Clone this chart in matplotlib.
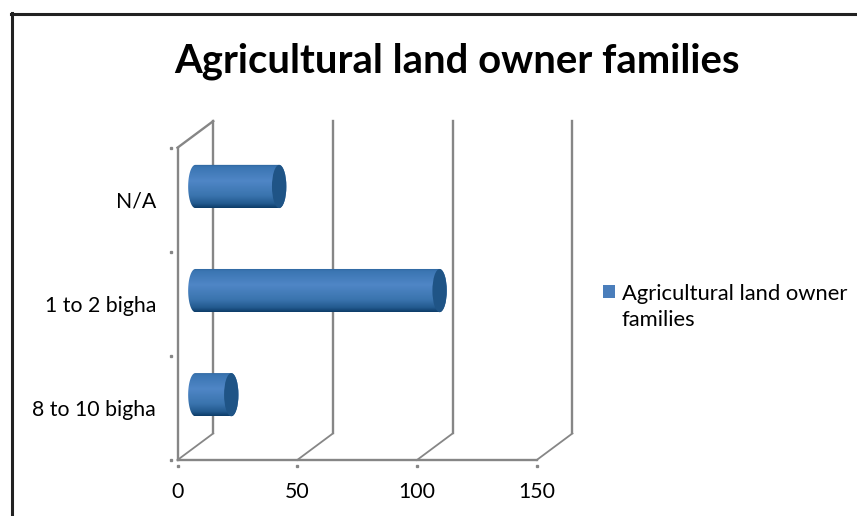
import numpy as np
import matplotlib
matplotlib.use("Agg")
import matplotlib.pyplot as plt
from matplotlib.colors import LinearSegmentedColormap
from matplotlib.lines import Line2D
from matplotlib.patches import Ellipse, Patch, Polygon

categorias = ["8 to 10 bigha", "1 to 2 bigha", "N/A"]
valores = [15, 102, 35]
ticks_x = [0, 50, 100, 150]
titulo = "Agricultural land owner families"
serie = ["Agricultural land owner", "families"]

W, H = 857, 516
plt.rcParams["font.family"] = ["Lato", "DejaVu Sans"]

fig = plt.figure(figsize=(W / 100, H / 100), dpi=100)
ax = fig.add_axes([177.5 / W, 1 - 460 / H, (536.7 - 177.5) / W, (460 - 147.7) / H])
ax.set_axis_off()

gris = "#868686"
fondo_x = 14.9   # profundidad del grafico 3d en unidades de datos
fondo_y = 0.255
y_min, y_max = -0.5, 2.5

# paredes y piso
for t in ticks_x:
    ax.plot([t + fondo_x, t + fondo_x], [y_min + fondo_y, y_max + fondo_y], c=gris, lw=1.7, clip_on=False, zorder=1)
    ax.plot([t, t + fondo_x], [y_min, y_min + fondo_y], c=gris, lw=1.3, clip_on=False, zorder=1)
ax.plot([0, 0], [y_min, y_max], c=gris, lw=1.7, clip_on=False, zorder=1)
ax.plot([0, fondo_x], [y_max, y_max + fondo_y], c=gris, lw=1.7, clip_on=False, zorder=1)
ax.plot([0, ticks_x[-1]], [y_min, y_min], c=gris, lw=1.7, clip_on=False, zorder=1)

# marquitas separadas del eje
ax.plot(ticks_x, [y_min - 0.06] * len(ticks_x), ls="", marker="s", ms=1.4, c=gris, clip_on=False)
ax.plot([-2.6] * 4, np.arange(4) - 0.5, ls="", marker="s", ms=1.4, c=gris, clip_on=False)

# cilindros
cmap = LinearSegmentedColormap.from_list("azul", [
    (0.0, "#2b6298"), (0.06, "#3a75b2"), (0.38, "#4f86c6"),
    (0.72, "#3a74ae"), (0.9, "#235a8f"), (1.0, "#0d3c68")])
grad = np.linspace(0, 1, 128).reshape(-1, 1)
alto = 0.415
semi = 3.0
ang = np.linspace(np.pi / 2, 3 * np.pi / 2, 40)

for i, v in enumerate(valores):
    x0 = fondo_x / 2
    y0 = i + fondo_y / 2
    x1 = x0 + v
    xs = np.r_[x0 + semi * np.cos(ang), x1 - semi * np.cos(ang)]
    ys = np.r_[y0 + alto / 2 * np.sin(ang), y0 - alto / 2 * np.sin(ang)]
    forma = Polygon(np.c_[xs, ys], closed=True, transform=ax.transData)
    im = ax.imshow(grad, extent=(x0 - semi, x1 + semi, y0 - alto / 2, y0 + alto / 2),
                   cmap=cmap, aspect="auto", origin="upper", zorder=3, clip_on=True)
    im.set_clip_path(forma)
    ax.add_patch(Ellipse((x1, y0), 2 * semi, alto, fc="#1f5486", ec="none", zorder=4))

ax.set_xlim(0, ticks_x[-1])
ax.set_ylim(y_min, y_max)

# textos
for t in ticks_x:
    ax.annotate(str(t), (t, y_min), xytext=(0, -32), textcoords="offset pixels",
                ha="center", va="center", fontsize=15.3, color="black", annotation_clip=False)
for i, c in enumerate(categorias):
    ax.annotate(c, (0, i), xytext=(-21.5, -2), textcoords="offset pixels",
                ha="right", va="center", fontsize=15.3, color="black", annotation_clip=False)

fig.text(457 / W, 1 - 61 / H, titulo, ha="center", va="center", fontsize=28.8, fontweight="bold", color="black")

# dos filas: el cuadrito queda solo con la primera linea
fig.legend(handles=[Patch(fc="#4a7ebb", ec="none", label=serie[0]),
                    Patch(fc="none", ec="none", label=serie[1])],
           loc="upper left", bbox_to_anchor=(603 / W, 1 - 283.5 / H), frameon=False, fontsize=15.8,
           handlelength=0.55, handleheight=0.55, handletextpad=0.31, labelspacing=0.3, borderpad=0, borderaxespad=0)

# borde de la imagen
fig.add_artist(Line2D([11.5 / W, 11.5 / W], [0, 1 - 13 / H], c="#222222", lw=2.2))
fig.add_artist(Line2D([10.5 / W, 1], [1 - 13.5 / H, 1 - 13.5 / H], c="#222222", lw=2.2))

fig.savefig("out.png", dpi=100)
